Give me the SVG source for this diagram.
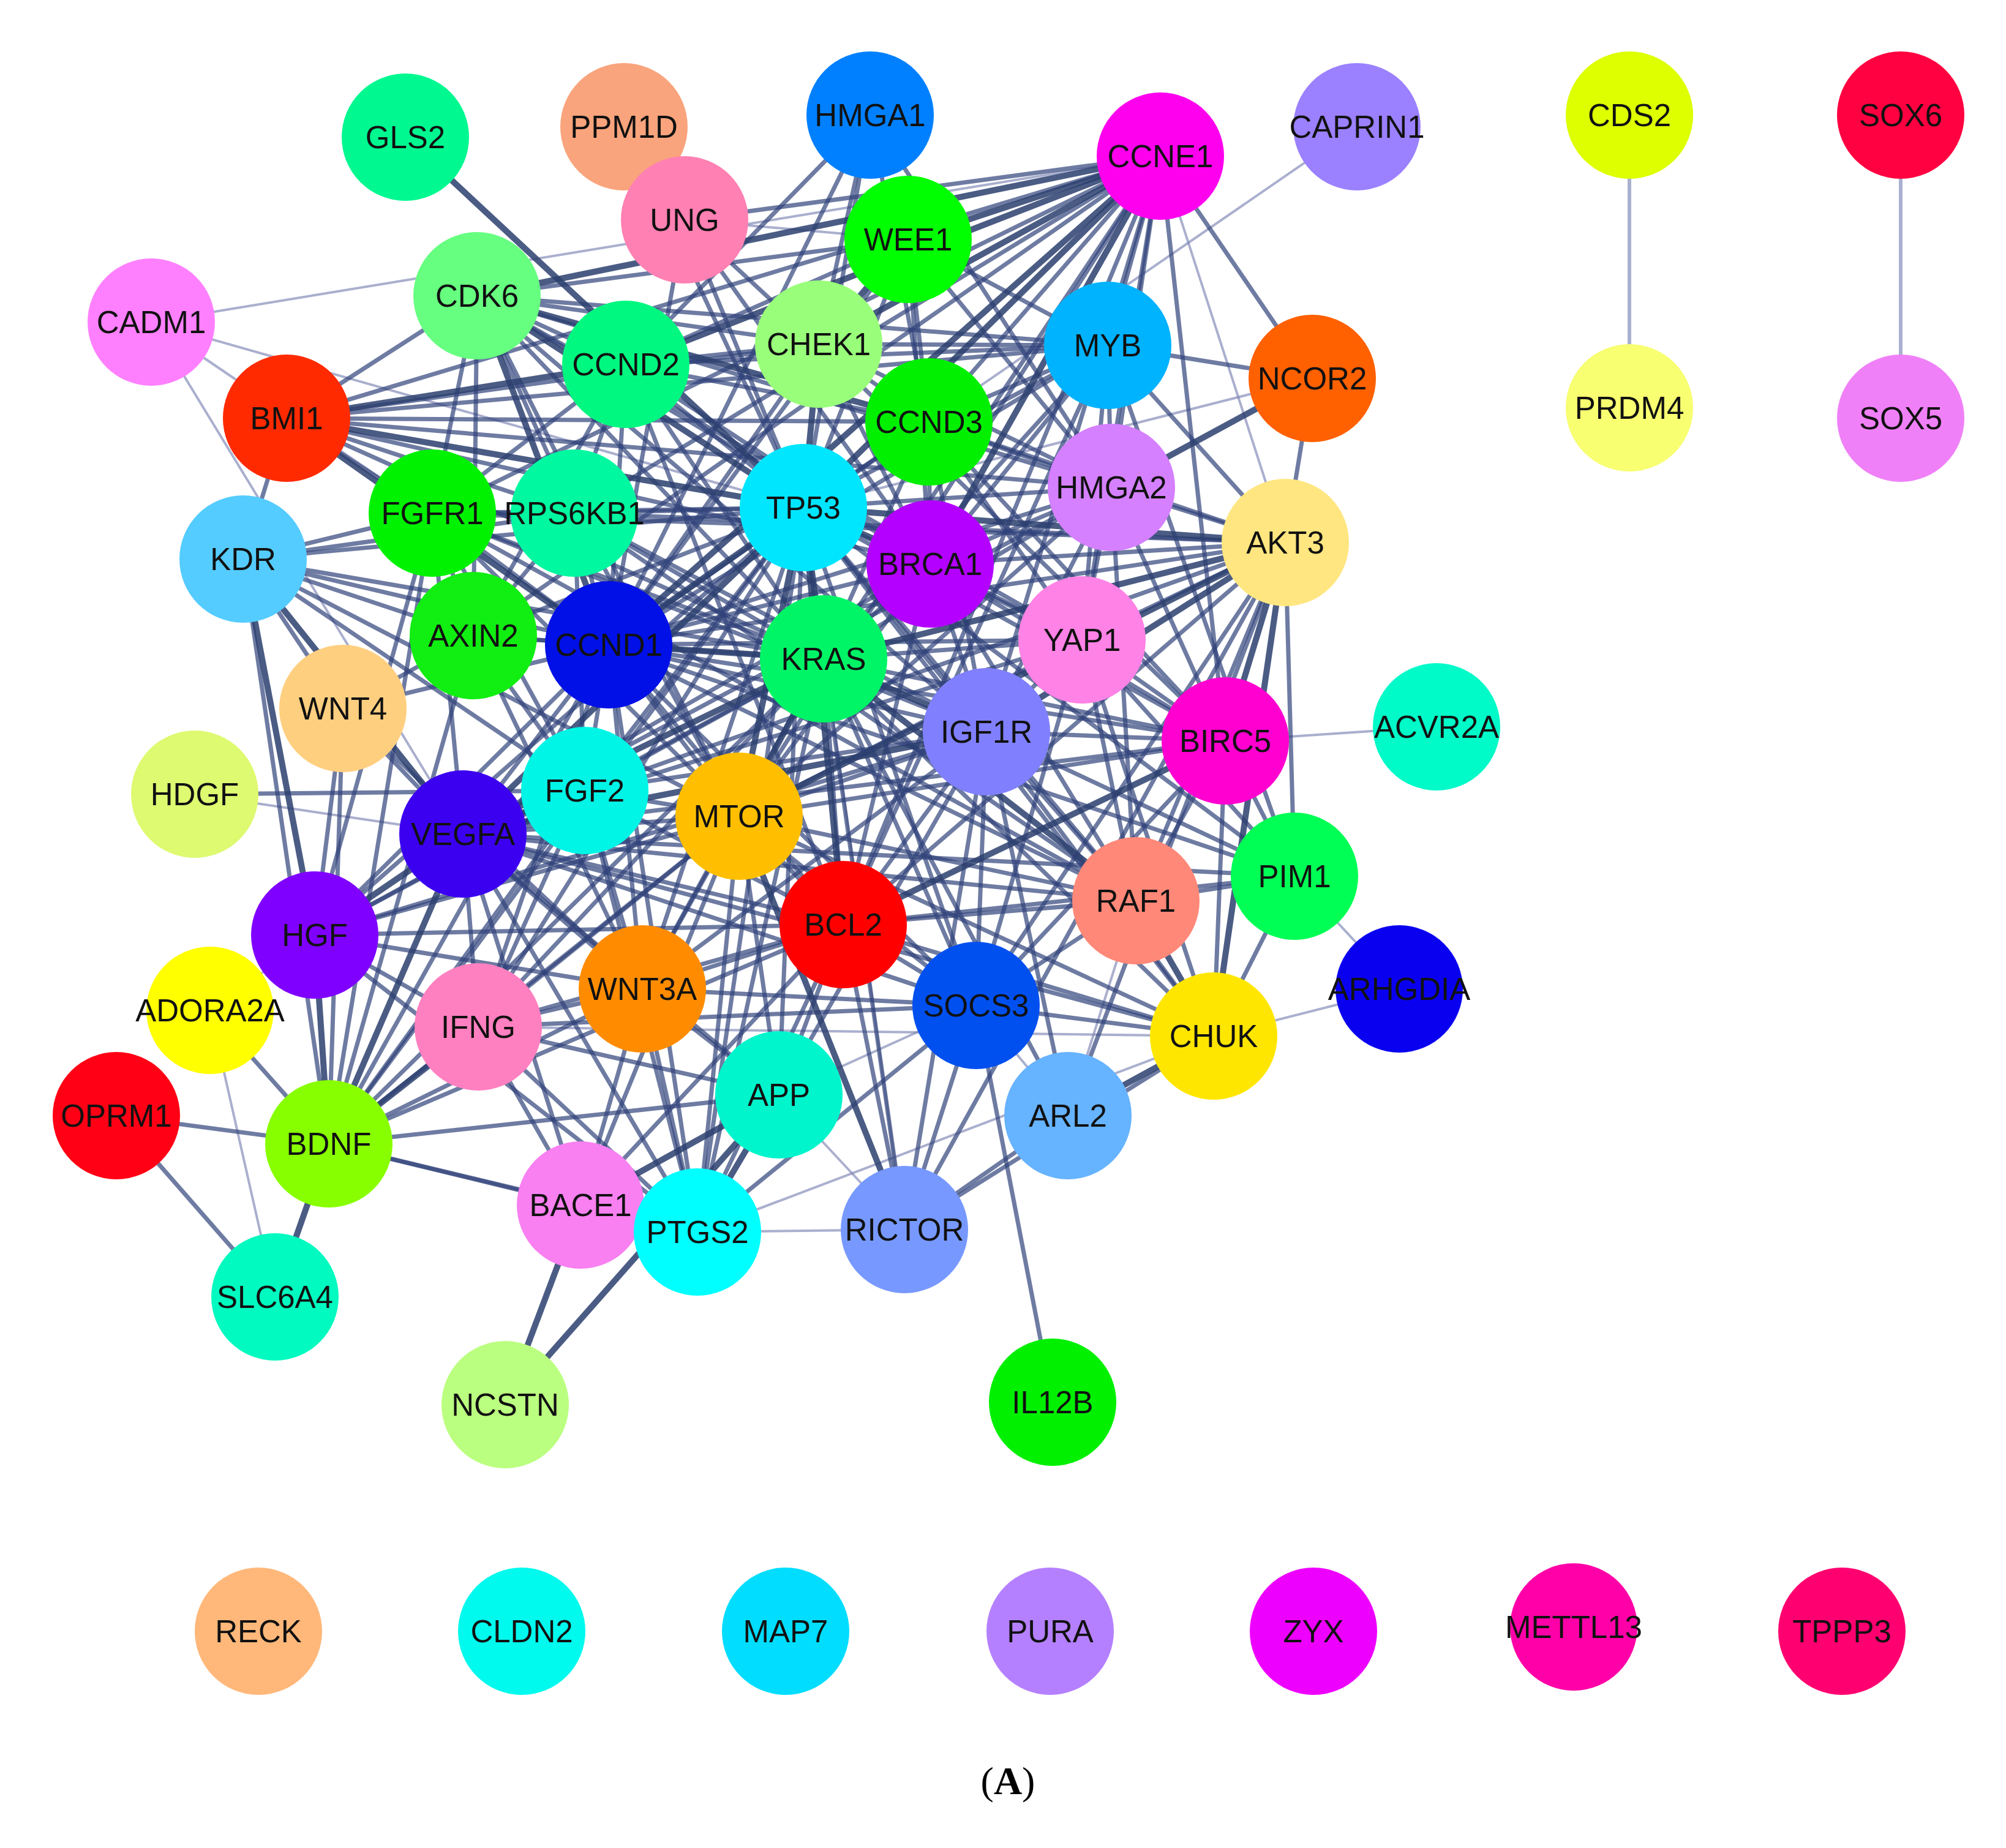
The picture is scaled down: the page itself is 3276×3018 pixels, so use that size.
<svg xmlns="http://www.w3.org/2000/svg" width="3276" height="3018" viewBox="0 0 3276 3018">
<style>
.s{stroke:#7d84b3;stroke-width:4;stroke-opacity:.65;fill:none}
.m{stroke:#30437a;stroke-width:7;stroke-opacity:.7;fill:none}
.t{stroke:#2c3f6e;stroke-width:10;stroke-opacity:.85;fill:none}
.l{stroke:#aab0d0;stroke-width:6;fill:none}
.n text{font-family:"Liberation Sans",Arial,sans-serif;font-size:51px;text-anchor:middle;fill:#111}
.cap{font-family:"Liberation Serif","Times New Roman",serif;font-size:64px;text-anchor:middle;fill:#000}
</style>
<rect width="3276" height="3018" fill="#fff"/>
<g id="connectors">
<path class="l" d="M2661 188L2661 666"/>
<path class="l" d="M3104 188L3104 683"/>
<path class="s" d="M247 526L1895 255"/>
<path class="s" d="M247 526L1312 829"/>
<path class="s" d="M247 526L756 1362"/>
<path class="s" d="M247 526L706 838"/>
<path class="s" d="M1312 829L2143 618"/>
<path class="s" d="M1312 829L2216 207"/>
<path class="s" d="M1312 829L1477 2008"/>
<path class="s" d="M1895 255L2099 886"/>
<path class="s" d="M1982 1692L2285 1615"/>
<path class="s" d="M2114 1431L2285 1615"/>
<path class="s" d="M2346 1187L2001 1210"/>
<path class="s" d="M449 2118L343 1650"/>
<path class="s" d="M1477 2008L1139 2012"/>
<path class="s" d="M1477 2008L1272 1788"/>
<path class="s" d="M1982 1692L1139 2012"/>
<path class="s" d="M1594 1642L1272 1788"/>
<path class="s" d="M1594 1642L1744 1822"/>
<path class="s" d="M1855 1471L1744 1822"/>
<path class="s" d="M948 1968L1139 2012"/>
<path class="s" d="M318 1297L756 1362"/>
<path class="s" d="M1483 391L1118 359"/>
<path class="s" d="M514 1527L343 1650"/>
<path class="s" d="M1982 1692L781 1677"/>
<path class="m" d="M1312 829L1022 595"/>
<path class="m" d="M1312 829L1517 689"/>
<path class="m" d="M1312 829L1483 391"/>
<path class="m" d="M1312 829L1809 564"/>
<path class="m" d="M1312 829L1815 796"/>
<path class="m" d="M1312 829L1421 188"/>
<path class="m" d="M1312 829L1767 1045"/>
<path class="m" d="M1312 829L2001 1210"/>
<path class="m" d="M1312 829L706 838"/>
<path class="m" d="M1312 829L938 838"/>
<path class="m" d="M1312 829L773 1038"/>
<path class="m" d="M1312 829L1139 2012"/>
<path class="m" d="M1312 829L781 1677"/>
<path class="m" d="M1312 829L514 1527"/>
<path class="m" d="M1312 829L955 1291"/>
<path class="m" d="M1312 829L1272 1788"/>
<path class="m" d="M1312 829L1855 1471"/>
<path class="m" d="M1312 829L1594 1642"/>
<path class="m" d="M1312 829L2114 1431"/>
<path class="m" d="M1312 829L1982 1692"/>
<path class="m" d="M1312 829L1118 359"/>
<path class="m" d="M1312 829L1019 207"/>
<path class="m" d="M1312 829L397 913"/>
<path class="m" d="M1312 829L537 1868"/>
<path class="m" d="M1312 829L1049 1615"/>
<path class="m" d="M1312 829L1611 1195"/>
<path class="m" d="M1345 1076L1377 1510"/>
<path class="m" d="M1345 1076L706 838"/>
<path class="m" d="M1345 1076L938 838"/>
<path class="m" d="M1345 1076L1767 1045"/>
<path class="m" d="M1345 1076L1519 921"/>
<path class="m" d="M1345 1076L1895 255"/>
<path class="m" d="M1345 1076L779 483"/>
<path class="m" d="M1345 1076L514 1527"/>
<path class="m" d="M1345 1076L955 1291"/>
<path class="m" d="M1345 1076L397 913"/>
<path class="m" d="M1345 1076L1139 2012"/>
<path class="m" d="M1345 1076L773 1038"/>
<path class="m" d="M1345 1076L468 683"/>
<path class="m" d="M1345 1076L1982 1692"/>
<path class="m" d="M1345 1076L1477 2008"/>
<path class="m" d="M1345 1076L1594 1642"/>
<path class="m" d="M1345 1076L2001 1210"/>
<path class="m" d="M1345 1076L1815 796"/>
<path class="m" d="M1345 1076L1809 564"/>
<path class="m" d="M1345 1076L537 1868"/>
<path class="m" d="M1345 1076L1049 1615"/>
<path class="m" d="M1345 1076L781 1677"/>
<path class="m" d="M1345 1076L1022 595"/>
<path class="m" d="M1345 1076L1517 689"/>
<path class="m" d="M1345 1076L1744 1822"/>
<path class="m" d="M994 1053L1022 595"/>
<path class="m" d="M994 1053L1517 689"/>
<path class="m" d="M994 1053L1207 1333"/>
<path class="m" d="M994 1053L756 1362"/>
<path class="m" d="M994 1053L1377 1510"/>
<path class="m" d="M994 1053L1611 1195"/>
<path class="m" d="M994 1053L773 1038"/>
<path class="m" d="M994 1053L1809 564"/>
<path class="m" d="M994 1053L1421 188"/>
<path class="m" d="M994 1053L1815 796"/>
<path class="m" d="M994 1053L1767 1045"/>
<path class="m" d="M994 1053L2001 1210"/>
<path class="m" d="M994 1053L1519 921"/>
<path class="m" d="M994 1053L1337 562"/>
<path class="m" d="M994 1053L1483 391"/>
<path class="m" d="M994 1053L706 838"/>
<path class="m" d="M994 1053L938 838"/>
<path class="m" d="M994 1053L955 1291"/>
<path class="m" d="M994 1053L1049 1615"/>
<path class="m" d="M994 1053L560 1157"/>
<path class="m" d="M994 1053L1139 2012"/>
<path class="m" d="M994 1053L397 913"/>
<path class="m" d="M994 1053L514 1527"/>
<path class="m" d="M994 1053L1855 1471"/>
<path class="m" d="M994 1053L2099 886"/>
<path class="m" d="M994 1053L1594 1642"/>
<path class="m" d="M994 1053L781 1677"/>
<path class="m" d="M994 1053L537 1868"/>
<path class="m" d="M994 1053L2114 1431"/>
<path class="m" d="M994 1053L1118 359"/>
<path class="m" d="M1207 1333L938 838"/>
<path class="m" d="M1207 1333L1611 1195"/>
<path class="m" d="M1207 1333L756 1362"/>
<path class="m" d="M1207 1333L1377 1510"/>
<path class="m" d="M1207 1333L514 1527"/>
<path class="m" d="M1207 1333L955 1291"/>
<path class="m" d="M1207 1333L706 838"/>
<path class="m" d="M1207 1333L397 913"/>
<path class="m" d="M1207 1333L537 1868"/>
<path class="m" d="M1207 1333L1272 1788"/>
<path class="m" d="M1207 1333L781 1677"/>
<path class="m" d="M1207 1333L1855 1471"/>
<path class="m" d="M1207 1333L1767 1045"/>
<path class="m" d="M1207 1333L2001 1210"/>
<path class="m" d="M1207 1333L1139 2012"/>
<path class="m" d="M1207 1333L1895 255"/>
<path class="m" d="M1207 1333L779 483"/>
<path class="m" d="M1207 1333L1594 1642"/>
<path class="m" d="M1207 1333L948 1968"/>
<path class="m" d="M1207 1333L1982 1692"/>
<path class="m" d="M1207 1333L1815 796"/>
<path class="m" d="M1207 1333L1049 1615"/>
<path class="m" d="M1207 1333L1519 921"/>
<path class="m" d="M756 1362L1377 1510"/>
<path class="m" d="M756 1362L1139 2012"/>
<path class="m" d="M756 1362L781 1677"/>
<path class="m" d="M756 1362L706 838"/>
<path class="m" d="M756 1362L1272 1788"/>
<path class="m" d="M756 1362L1594 1642"/>
<path class="m" d="M756 1362L2099 886"/>
<path class="m" d="M756 1362L1855 1471"/>
<path class="m" d="M756 1362L1767 1045"/>
<path class="m" d="M756 1362L2001 1210"/>
<path class="m" d="M756 1362L1049 1615"/>
<path class="m" d="M756 1362L1519 921"/>
<path class="m" d="M756 1362L1815 796"/>
<path class="m" d="M756 1362L1982 1692"/>
<path class="m" d="M756 1362L2114 1431"/>
<path class="m" d="M756 1362L948 1968"/>
<path class="m" d="M756 1362L560 1157"/>
<path class="m" d="M1377 1510L1611 1195"/>
<path class="m" d="M1377 1510L1855 1471"/>
<path class="m" d="M1377 1510L2099 886"/>
<path class="m" d="M1377 1510L1139 2012"/>
<path class="m" d="M1377 1510L781 1677"/>
<path class="m" d="M1377 1510L537 1868"/>
<path class="m" d="M1377 1510L1272 1788"/>
<path class="m" d="M1377 1510L1594 1642"/>
<path class="m" d="M1377 1510L2114 1431"/>
<path class="m" d="M1377 1510L1982 1692"/>
<path class="m" d="M1377 1510L1519 921"/>
<path class="m" d="M1377 1510L1809 564"/>
<path class="m" d="M1377 1510L1022 595"/>
<path class="m" d="M1377 1510L1895 255"/>
<path class="m" d="M1377 1510L514 1527"/>
<path class="m" d="M1377 1510L955 1291"/>
<path class="m" d="M1377 1510L948 1968"/>
<path class="m" d="M1377 1510L1477 2008"/>
<path class="m" d="M1377 1510L1049 1615"/>
<path class="m" d="M1611 1195L1855 1471"/>
<path class="m" d="M1611 1195L938 838"/>
<path class="m" d="M1611 1195L706 838"/>
<path class="m" d="M1611 1195L1767 1045"/>
<path class="m" d="M1611 1195L2001 1210"/>
<path class="m" d="M1611 1195L1519 921"/>
<path class="m" d="M1611 1195L1594 1642"/>
<path class="m" d="M1611 1195L1982 1692"/>
<path class="m" d="M1611 1195L2114 1431"/>
<path class="m" d="M1611 1195L1815 796"/>
<path class="m" d="M1611 1195L1421 188"/>
<path class="m" d="M1611 1195L955 1291"/>
<path class="m" d="M1611 1195L514 1527"/>
<path class="m" d="M1611 1195L1744 1822"/>
<path class="m" d="M1611 1195L1477 2008"/>
<path class="m" d="M1611 1195L1272 1788"/>
<path class="m" d="M1611 1195L1049 1615"/>
<path class="m" d="M1611 1195L1895 255"/>
<path class="m" d="M1895 255L1517 689"/>
<path class="m" d="M1895 255L1809 564"/>
<path class="m" d="M1895 255L468 683"/>
<path class="m" d="M1895 255L938 838"/>
<path class="m" d="M1895 255L773 1038"/>
<path class="m" d="M1895 255L2143 618"/>
<path class="m" d="M1895 255L2001 1210"/>
<path class="m" d="M1895 255L1815 796"/>
<path class="m" d="M1895 255L1767 1045"/>
<path class="m" d="M1895 255L706 838"/>
<path class="m" d="M1895 255L1118 359"/>
<path class="m" d="M779 483L1022 595"/>
<path class="m" d="M779 483L1337 562"/>
<path class="m" d="M779 483L1483 391"/>
<path class="m" d="M779 483L468 683"/>
<path class="m" d="M779 483L706 838"/>
<path class="m" d="M779 483L773 1038"/>
<path class="m" d="M779 483L1815 796"/>
<path class="m" d="M779 483L1809 564"/>
<path class="m" d="M779 483L1519 921"/>
<path class="m" d="M779 483L938 838"/>
<path class="m" d="M779 483L1767 1045"/>
<path class="m" d="M779 483L1611 1195"/>
<path class="m" d="M1022 595L1517 689"/>
<path class="m" d="M1022 595L1337 562"/>
<path class="m" d="M1022 595L1483 391"/>
<path class="m" d="M1022 595L1809 564"/>
<path class="m" d="M1022 595L706 838"/>
<path class="m" d="M1022 595L938 838"/>
<path class="m" d="M1022 595L773 1038"/>
<path class="m" d="M1022 595L1421 188"/>
<path class="m" d="M1022 595L1519 921"/>
<path class="m" d="M1517 689L1337 562"/>
<path class="m" d="M1517 689L1809 564"/>
<path class="m" d="M1517 689L1519 921"/>
<path class="m" d="M1517 689L1483 391"/>
<path class="m" d="M1517 689L1815 796"/>
<path class="m" d="M1517 689L1767 1045"/>
<path class="m" d="M1517 689L2099 886"/>
<path class="m" d="M1517 689L2001 1210"/>
<path class="m" d="M1517 689L468 683"/>
<path class="m" d="M1337 562L1519 921"/>
<path class="m" d="M1337 562L2001 1210"/>
<path class="m" d="M1337 562L1809 564"/>
<path class="m" d="M1337 562L1815 796"/>
<path class="m" d="M1337 562L1421 188"/>
<path class="m" d="M1337 562L1118 359"/>
<path class="m" d="M1337 562L468 683"/>
<path class="m" d="M1483 391L1519 921"/>
<path class="m" d="M1483 391L1809 564"/>
<path class="m" d="M1483 391L1815 796"/>
<path class="m" d="M1519 921L2001 1210"/>
<path class="m" d="M1519 921L1815 796"/>
<path class="m" d="M1519 921L1809 564"/>
<path class="m" d="M1519 921L1767 1045"/>
<path class="m" d="M1519 921L2099 886"/>
<path class="m" d="M1519 921L1118 359"/>
<path class="m" d="M1519 921L468 683"/>
<path class="m" d="M1519 921L1855 1471"/>
<path class="m" d="M1809 564L1815 796"/>
<path class="m" d="M1809 564L2143 618"/>
<path class="m" d="M1809 564L1767 1045"/>
<path class="m" d="M1809 564L2114 1431"/>
<path class="m" d="M1809 564L468 683"/>
<path class="m" d="M1809 564L2099 886"/>
<path class="m" d="M1815 796L2099 886"/>
<path class="m" d="M1815 796L1767 1045"/>
<path class="m" d="M1815 796L2001 1210"/>
<path class="m" d="M1815 796L1855 1471"/>
<path class="m" d="M1815 796L468 683"/>
<path class="m" d="M1815 796L1421 188"/>
<path class="m" d="M1767 1045L2099 886"/>
<path class="m" d="M1767 1045L2001 1210"/>
<path class="m" d="M1767 1045L1855 1471"/>
<path class="m" d="M1767 1045L2114 1431"/>
<path class="m" d="M1767 1045L1594 1642"/>
<path class="m" d="M1767 1045L1982 1692"/>
<path class="m" d="M2099 886L2143 618"/>
<path class="m" d="M2099 886L1855 1471"/>
<path class="m" d="M2099 886L1594 1642"/>
<path class="m" d="M2099 886L1477 2008"/>
<path class="m" d="M2099 886L1744 1822"/>
<path class="m" d="M2099 886L706 838"/>
<path class="m" d="M2099 886L938 838"/>
<path class="m" d="M2099 886L2114 1431"/>
<path class="m" d="M2001 1210L2114 1431"/>
<path class="m" d="M2001 1210L1982 1692"/>
<path class="m" d="M2001 1210L1855 1471"/>
<path class="m" d="M2001 1210L1594 1642"/>
<path class="m" d="M1855 1471L1594 1642"/>
<path class="m" d="M1855 1471L2114 1431"/>
<path class="m" d="M1855 1471L706 838"/>
<path class="m" d="M1855 1471L938 838"/>
<path class="m" d="M1594 1642L1719 2290"/>
<path class="m" d="M1594 1642L1982 1692"/>
<path class="m" d="M1594 1642L1477 2008"/>
<path class="m" d="M1594 1642L781 1677"/>
<path class="m" d="M1594 1642L1139 2012"/>
<path class="m" d="M1594 1642L1049 1615"/>
<path class="m" d="M1982 1692L1477 2008"/>
<path class="m" d="M1982 1692L2114 1431"/>
<path class="m" d="M1744 1822L1477 2008"/>
<path class="m" d="M1272 1788L537 1868"/>
<path class="m" d="M1272 1788L781 1677"/>
<path class="m" d="M1272 1788L1049 1615"/>
<path class="m" d="M948 1968L537 1868"/>
<path class="m" d="M948 1968L781 1677"/>
<path class="m" d="M948 1968L1049 1615"/>
<path class="m" d="M1139 2012L781 1677"/>
<path class="m" d="M1139 2012L514 1527"/>
<path class="m" d="M1139 2012L1049 1615"/>
<path class="m" d="M1139 2012L537 1868"/>
<path class="m" d="M1139 2012L955 1291"/>
<path class="m" d="M781 1677L514 1527"/>
<path class="m" d="M781 1677L955 1291"/>
<path class="m" d="M781 1677L1049 1615"/>
<path class="m" d="M1049 1615L773 1038"/>
<path class="m" d="M1049 1615L560 1157"/>
<path class="m" d="M1049 1615L514 1527"/>
<path class="m" d="M1049 1615L955 1291"/>
<path class="m" d="M1049 1615L537 1868"/>
<path class="m" d="M514 1527L955 1291"/>
<path class="m" d="M514 1527L706 838"/>
<path class="m" d="M514 1527L560 1157"/>
<path class="m" d="M537 1868L190 1822"/>
<path class="m" d="M537 1868L343 1650"/>
<path class="m" d="M537 1868L397 913"/>
<path class="m" d="M537 1868L560 1157"/>
<path class="m" d="M537 1868L706 838"/>
<path class="m" d="M537 1868L955 1291"/>
<path class="m" d="M537 1868L773 1038"/>
<path class="m" d="M449 2118L190 1822"/>
<path class="m" d="M955 1291L706 838"/>
<path class="m" d="M955 1291L397 913"/>
<path class="m" d="M955 1291L773 1038"/>
<path class="m" d="M955 1291L318 1297"/>
<path class="m" d="M955 1291L938 838"/>
<path class="m" d="M706 838L397 913"/>
<path class="m" d="M706 838L773 1038"/>
<path class="m" d="M706 838L938 838"/>
<path class="m" d="M706 838L468 683"/>
<path class="m" d="M773 1038L560 1157"/>
<path class="m" d="M773 1038L397 913"/>
<path class="m" d="M773 1038L938 838"/>
<path class="m" d="M560 1157L397 913"/>
<path class="m" d="M397 913L468 683"/>
<path class="m" d="M397 913L938 838"/>
<path class="m" d="M938 838L468 683"/>
<path class="t" d="M662 224L1312 829"/>
<path class="t" d="M397 913L514 1527"/>
<path class="t" d="M397 913L756 1362"/>
<path class="t" d="M449 2118L537 1868"/>
<path class="t" d="M825 2294L948 1968"/>
<path class="t" d="M825 2294L1272 1788"/>
<path class="t" d="M468 683L1312 829"/>
<path class="t" d="M468 683L994 1053"/>
<path class="t" d="M468 683L1022 595"/>
<path class="t" d="M779 483L994 1053"/>
<path class="t" d="M779 483L1312 829"/>
<path class="t" d="M779 483L1895 255"/>
<path class="t" d="M779 483L1517 689"/>
<path class="t" d="M994 1053L1895 255"/>
<path class="t" d="M994 1053L1312 829"/>
<path class="t" d="M994 1053L1345 1076"/>
<path class="t" d="M1312 829L1345 1076"/>
<path class="t" d="M1312 829L1207 1333"/>
<path class="t" d="M1312 829L1377 1510"/>
<path class="t" d="M1312 829L1895 255"/>
<path class="t" d="M1312 829L1519 921"/>
<path class="t" d="M1312 829L1337 562"/>
<path class="t" d="M1312 829L756 1362"/>
<path class="t" d="M1312 829L2099 886"/>
<path class="t" d="M1345 1076L1207 1333"/>
<path class="t" d="M1345 1076L1611 1195"/>
<path class="t" d="M1345 1076L1855 1471"/>
<path class="t" d="M1345 1076L756 1362"/>
<path class="t" d="M1345 1076L2099 886"/>
<path class="t" d="M1207 1333L1477 2008"/>
<path class="t" d="M1207 1333L2099 886"/>
<path class="t" d="M756 1362L514 1527"/>
<path class="t" d="M756 1362L537 1868"/>
<path class="t" d="M756 1362L955 1291"/>
<path class="t" d="M756 1362L1611 1195"/>
<path class="t" d="M1377 1510L2001 1210"/>
<path class="t" d="M1611 1195L2099 886"/>
<path class="t" d="M1895 255L1483 391"/>
<path class="t" d="M1895 255L1337 562"/>
<path class="t" d="M1895 255L1022 595"/>
<path class="t" d="M1895 255L1519 921"/>
<path class="t" d="M1337 562L1483 391"/>
<path class="t" d="M1744 1822L1982 1692"/>
<path class="t" d="M781 1677L537 1868"/>
<path class="t" d="M514 1527L537 1868"/>
<path class="t" d="M1272 1788L948 1968"/>
<path class="t" d="M1272 1788L1139 2012"/>
<path class="t" d="M1982 1692L1855 1471"/>
<path class="t" d="M2099 886L2001 1210"/>
<path class="t" d="M2099 886L1982 1692"/>
<path class="t" d="M1815 796L2143 618"/>
</g>
<g id="n-GLS2" class="n"><circle cx="662" cy="224" r="104" fill="#00F890"/><text x="662" y="242">GLS2</text></g>
<g id="n-PPM1D" class="n"><circle cx="1019" cy="207" r="104" fill="#F9A47C"/><text x="1019" y="225">PPM1D</text></g>
<g id="n-UNG" class="n"><circle cx="1118" cy="359" r="104" fill="#FF80B3"/><text x="1118" y="377">UNG</text></g>
<g id="n-HMGA1" class="n"><circle cx="1421" cy="188" r="104" fill="#0080FF"/><text x="1421" y="206">HMGA1</text></g>
<g id="n-CCNE1" class="n"><circle cx="1895" cy="255" r="104" fill="#FF00EE"/><text x="1895" y="273">CCNE1</text></g>
<g id="n-CAPRIN1" class="n"><circle cx="2216" cy="207" r="104" fill="#9B80FF"/><text x="2216" y="225">CAPRIN1</text></g>
<g id="n-CDS2" class="n"><circle cx="2661" cy="188" r="104" fill="#DDFF00"/><text x="2661" y="206">CDS2</text></g>
<g id="n-SOX6" class="n"><circle cx="3104" cy="188" r="104" fill="#FF0040"/><text x="3104" y="206">SOX6</text></g>
<g id="n-WEE1" class="n"><circle cx="1483" cy="391" r="104" fill="#00FF00"/><text x="1483" y="409">WEE1</text></g>
<g id="n-CDK6" class="n"><circle cx="779" cy="483" r="104" fill="#66FF80"/><text x="779" y="501">CDK6</text></g>
<g id="n-CADM1" class="n"><circle cx="247" cy="526" r="104" fill="#FF80FF"/><text x="247" y="544">CADM1</text></g>
<g id="n-CHEK1" class="n"><circle cx="1337" cy="562" r="104" fill="#99FF7A"/><text x="1337" y="580">CHEK1</text></g>
<g id="n-CCND2" class="n"><circle cx="1022" cy="595" r="104" fill="#00F880"/><text x="1022" y="613">CCND2</text></g>
<g id="n-MYB" class="n"><circle cx="1809" cy="564" r="104" fill="#00B3FF"/><text x="1809" y="582">MYB</text></g>
<g id="n-NCOR2" class="n"><circle cx="2143" cy="618" r="104" fill="#FF6000"/><text x="2143" y="636">NCOR2</text></g>
<g id="n-PRDM4" class="n"><circle cx="2661" cy="666" r="104" fill="#F8FF70"/><text x="2661" y="684">PRDM4</text></g>
<g id="n-SOX5" class="n"><circle cx="3104" cy="683" r="104" fill="#F080F8"/><text x="3104" y="701">SOX5</text></g>
<g id="n-BMI1" class="n"><circle cx="468" cy="683" r="104" fill="#FF2A00"/><text x="468" y="701">BMI1</text></g>
<g id="n-CCND3" class="n"><circle cx="1517" cy="689" r="104" fill="#00F000"/><text x="1517" y="707">CCND3</text></g>
<g id="n-HMGA2" class="n"><circle cx="1815" cy="796" r="104" fill="#D580FF"/><text x="1815" y="814">HMGA2</text></g>
<g id="n-FGFR1" class="n"><circle cx="706" cy="838" r="104" fill="#00F200"/><text x="706" y="856">FGFR1</text></g>
<g id="n-RPS6KB1" class="n"><circle cx="938" cy="838" r="104" fill="#00F8A0"/><text x="938" y="856">RPS6KB1</text></g>
<g id="n-TP53" class="n"><circle cx="1312" cy="829" r="104" fill="#00E6FF"/><text x="1312" y="847">TP53</text></g>
<g id="n-AKT3" class="n"><circle cx="2099" cy="886" r="104" fill="#FFE680"/><text x="2099" y="904">AKT3</text></g>
<g id="n-KDR" class="n"><circle cx="397" cy="913" r="104" fill="#55CCFF"/><text x="397" y="931">KDR</text></g>
<g id="n-BRCA1" class="n"><circle cx="1519" cy="921" r="104" fill="#B300FF"/><text x="1519" y="939">BRCA1</text></g>
<g id="n-AXIN2" class="n"><circle cx="773" cy="1038" r="104" fill="#11EE11"/><text x="773" y="1056">AXIN2</text></g>
<g id="n-CCND1" class="n"><circle cx="994" cy="1053" r="104" fill="#0010E6"/><text x="994" y="1071">CCND1</text></g>
<g id="n-KRAS" class="n"><circle cx="1345" cy="1076" r="104" fill="#00F566"/><text x="1345" y="1094">KRAS</text></g>
<g id="n-YAP1" class="n"><circle cx="1767" cy="1045" r="104" fill="#FF82E6"/><text x="1767" y="1063">YAP1</text></g>
<g id="n-WNT4" class="n"><circle cx="560" cy="1157" r="104" fill="#FFCF80"/><text x="560" y="1175">WNT4</text></g>
<g id="n-IGF1R" class="n"><circle cx="1611" cy="1195" r="104" fill="#8080FF"/><text x="1611" y="1213">IGF1R</text></g>
<g id="n-BIRC5" class="n"><circle cx="2001" cy="1210" r="104" fill="#FF00D0"/><text x="2001" y="1228">BIRC5</text></g>
<g id="n-ACVR2A" class="n"><circle cx="2346" cy="1187" r="104" fill="#00FAC8"/><text x="2346" y="1205">ACVR2A</text></g>
<g id="n-HDGF" class="n"><circle cx="318" cy="1297" r="104" fill="#DDFA70"/><text x="318" y="1315">HDGF</text></g>
<g id="n-FGF2" class="n"><circle cx="955" cy="1291" r="104" fill="#00F5E6"/><text x="955" y="1309">FGF2</text></g>
<g id="n-VEGFA" class="n"><circle cx="756" cy="1362" r="104" fill="#3C00F0"/><text x="756" y="1380">VEGFA</text></g>
<g id="n-MTOR" class="n"><circle cx="1207" cy="1333" r="104" fill="#FFBF00"/><text x="1207" y="1351">MTOR</text></g>
<g id="n-PIM1" class="n"><circle cx="2114" cy="1431" r="104" fill="#00FF55"/><text x="2114" y="1449">PIM1</text></g>
<g id="n-RAF1" class="n"><circle cx="1855" cy="1471" r="104" fill="#FF8878"/><text x="1855" y="1489">RAF1</text></g>
<g id="n-HGF" class="n"><circle cx="514" cy="1527" r="104" fill="#8000FF"/><text x="514" y="1545">HGF</text></g>
<g id="n-BCL2" class="n"><circle cx="1377" cy="1510" r="104" fill="#FF0000"/><text x="1377" y="1528">BCL2</text></g>
<g id="n-ADORA2A" class="n"><circle cx="343" cy="1650" r="104" fill="#FFFF00"/><text x="343" y="1668">ADORA2A</text></g>
<g id="n-WNT3A" class="n"><circle cx="1049" cy="1615" r="104" fill="#FF8C00"/><text x="1049" y="1633">WNT3A</text></g>
<g id="n-ARHGDIA" class="n"><circle cx="2285" cy="1615" r="104" fill="#0A00F0"/><text x="2285" y="1633">ARHGDIA</text></g>
<g id="n-IFNG" class="n"><circle cx="781" cy="1677" r="104" fill="#FF80C0"/><text x="781" y="1695">IFNG</text></g>
<g id="n-SOCS3" class="n"><circle cx="1594" cy="1642" r="104" fill="#0050F0"/><text x="1594" y="1660">SOCS3</text></g>
<g id="n-CHUK" class="n"><circle cx="1982" cy="1692" r="104" fill="#FFE600"/><text x="1982" y="1710">CHUK</text></g>
<g id="n-APP" class="n"><circle cx="1272" cy="1788" r="104" fill="#00F5CC"/><text x="1272" y="1806">APP</text></g>
<g id="n-OPRM1" class="n"><circle cx="190" cy="1822" r="104" fill="#FF0014"/><text x="190" y="1840">OPRM1</text></g>
<g id="n-BDNF" class="n"><circle cx="537" cy="1868" r="104" fill="#88FF00"/><text x="537" y="1886">BDNF</text></g>
<g id="n-ARL2" class="n"><circle cx="1744" cy="1822" r="104" fill="#66B3FF"/><text x="1744" y="1840">ARL2</text></g>
<g id="n-BACE1" class="n"><circle cx="948" cy="1968" r="104" fill="#F880F0"/><text x="948" y="1986">BACE1</text></g>
<g id="n-PTGS2" class="n"><circle cx="1139" cy="2012" r="104" fill="#00FFFF"/><text x="1139" y="2030">PTGS2</text></g>
<g id="n-RICTOR" class="n"><circle cx="1477" cy="2008" r="104" fill="#7799FF"/><text x="1477" y="2026">RICTOR</text></g>
<g id="n-SLC6A4" class="n"><circle cx="449" cy="2118" r="104" fill="#00FABF"/><text x="449" y="2136">SLC6A4</text></g>
<g id="n-NCSTN" class="n"><circle cx="825" cy="2294" r="104" fill="#BBFF80"/><text x="825" y="2312">NCSTN</text></g>
<g id="n-IL12B" class="n"><circle cx="1719" cy="2290" r="104" fill="#00F000"/><text x="1719" y="2308">IL12B</text></g>
<g id="n-RECK" class="n"><circle cx="422" cy="2664" r="104" fill="#FFB87A"/><text x="422" y="2682">RECK</text></g>
<g id="n-CLDN2" class="n"><circle cx="852" cy="2664" r="104" fill="#00FAEE"/><text x="852" y="2682">CLDN2</text></g>
<g id="n-MAP7" class="n"><circle cx="1283" cy="2664" r="104" fill="#00DDFF"/><text x="1283" y="2682">MAP7</text></g>
<g id="n-PURA" class="n"><circle cx="1715" cy="2664" r="104" fill="#B580FF"/><text x="1715" y="2682">PURA</text></g>
<g id="n-ZYX" class="n"><circle cx="2145" cy="2664" r="104" fill="#EE00FF"/><text x="2145" y="2682">ZYX</text></g>
<g id="n-METTL13" class="n"><circle cx="2570" cy="2657" r="104" fill="#FF00A8"/><text x="2570" y="2675">METTL13</text></g>
<g id="n-TPPP3" class="n"><circle cx="3008" cy="2664" r="104" fill="#FF0070"/><text x="3008" y="2682">TPPP3</text></g>
<text class="cap" x="1646" y="2930">(<tspan font-weight="bold">A</tspan>)</text>
</svg>
